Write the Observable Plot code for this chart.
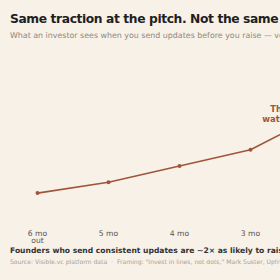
<!DOCTYPE html>
<html>
<head>
<meta charset="utf-8">
<script src="https://cdn.jsdelivr.net/npm/d3@7"></script>
<script src="https://cdn.jsdelivr.net/npm/@observablehq/plot@0.6"></script>
<style>
  html, body { margin: 0; padding: 0; background: #f7f1e8; overflow: hidden; }
  #wrap { width: 520px; font-family: "DejaVu Sans", sans-serif; }
  h1 { margin: 0; padding: 12px 0 0 10px; font-size: 12.3px; letter-spacing: -0.4px; font-weight: bold; color: #1f1f1f; line-height: 15px; white-space: nowrap; }
  .sub { padding: 4px 0 0 10px; font-size: 7.9px; color: #8f897e; white-space: nowrap; line-height: 10px; }
  .foot { padding: 0 0 0 10px; font-size: 7.6px; font-weight: bold; color: #333; white-space: nowrap; line-height: 10px; }
  .src { padding: 2px 0 0 10px; font-size: 6.1px; color: #a8a196; white-space: nowrap; line-height: 8px; }
  #chart svg { display: block; }
</style>
</head>
<body>
<div id="wrap">
  <h1>Same traction at the pitch. Not the same story.</h1>
  <div class="sub">What an investor sees when you send updates before you raise — versus when you don't</div>
  <div id="chart"></div>
  <div class="foot">Founders who send consistent updates are ~2× as likely to raise follow-on funding</div>
  <div class="src">Source: Visible.vc platform data &nbsp;·&nbsp; Framing: "Invest in lines, not dots," Mark Suster, Upfront Ventures</div>
</div>
<script>
// Months before the raise, and how much of the story an investor has seen
const months = ["6 mo\nout", "5 mo", "4 mo", "3 mo", "2 mo", "1 mo", "Pitch"];
const storyIndex = [19, 25, 34, 43, 63, 78, 92];
const noteText = "They're\nwatching";

const rows = months.map((m, i) => ({month: m, value: storyIndex[i]}));
const ink = "#a0553a";

const chart = Plot.plot({
  width: 520,
  height: 205,
  marginTop: 5,
  marginLeft: 35,
  marginRight: 56,
  marginBottom: 19,
  style: {background: "transparent", fontFamily: "DejaVu Sans, sans-serif"},
  x: {type: "point", domain: months, padding: 0, label: null},
  y: {domain: [0, 100], axis: null},
  marks: [
    Plot.ruleY([0], {x1: -30, stroke: "#e6ded2", strokeWidth: 1}),
    Plot.line(rows, {x: "month", y: "value", stroke: ink, strokeWidth: 1.6}),
    Plot.dot(rows, {x: "month", y: "value", r: 2, fill: ink}),
    Plot.text([rows[4]], {x: "month", y: "value", text: () => noteText, dx: -16, dy: 9,
      textAnchor: "end", lineAnchor: "bottom", fill: ink, fontWeight: "bold", fontSize: 8.4, lineHeight: 1.25}),
    Plot.axisX({tickSize: 0, tickPadding: 3, fontSize: 7.6, color: "#555", label: null})
  ]
});
document.getElementById("chart").appendChild(chart);
</script>
</body>
</html>
